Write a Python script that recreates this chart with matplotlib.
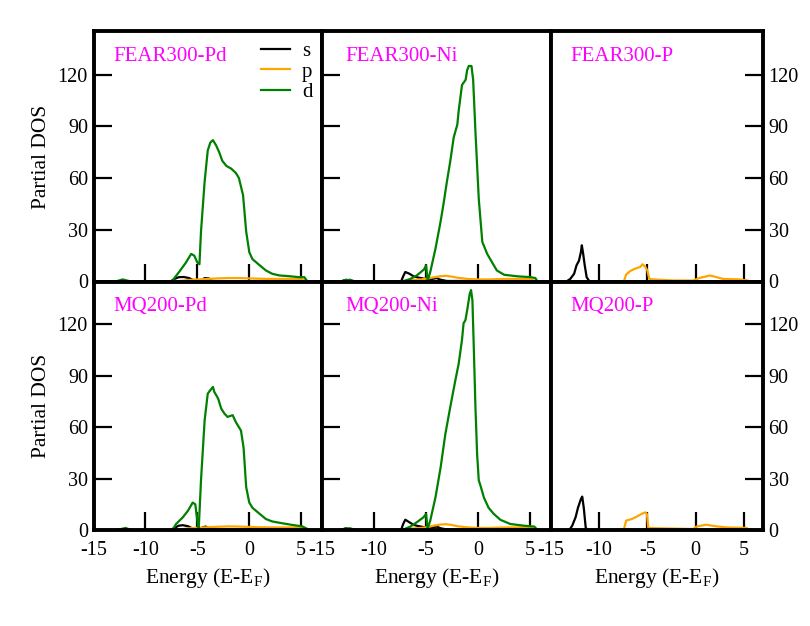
import matplotlib
matplotlib.use("Agg")
import matplotlib.pyplot as plt

plt.rcParams['font.family'] = ['Liberation Serif', 'DejaVu Serif']
plt.rcParams['mathtext.fontset'] = 'custom'
plt.rcParams['mathtext.rm'] = 'Liberation Serif'
plt.rcParams['axes.unicode_minus'] = False

# ---------------- data ----------------
orbitals = ['s', 'p', 'd']
xticks = [-15, -10, -5, 0, 5]
yticks = [0, 30, 60, 90, 120]
titles = ['FEAR300-Pd', 'FEAR300-Ni', 'FEAR300-P', 'MQ200-Pd', 'MQ200-Ni', 'MQ200-P']
colors = {'s': 'black', 'p': '#FFA500', 'd': '#008000'}

# FEAR300-Pd
f_pd_s_E = [-7.6, -7.2, -6.8, -6.3, -5.8, -5.4, -5.1, -4.7, -4.3, -3.9, -3.6, -3.0, 0.0, 5.6]
f_pd_s = [0, 1.5, 2.5, 2.6, 2.0, 0.8, 0.2, 0.3, 2.0, 1.8, 0.3, 0.2, 0.2, 0]
f_pd_p_E = [-7.0, -6.0, -5.0, -4.0, -3.0, -2.0, -1.0, 0.0, 1.0, 2.0, 3.0, 4.0, 5.0, 5.6]
f_pd_p = [0, 0.8, 1.2, 1.5, 1.8, 2.0, 2.0, 1.8, 1.6, 1.5, 1.5, 1.5, 1.4, 0]
f_pd_d_E = [-13.0, -12.7, -12.2, -11.6, -11.3, -7.5, -7.4, -6.7, -6.1, -5.6, -5.3, -5.0, -4.8,
            -4.65, -4.3, -4.0, -3.75, -3.5, -3.4, -3.2, -2.9, -2.6, -2.2, -1.75, -1.3, -1.0,
            -0.6, -0.3, 0.0, 0.3, 1.0, 1.6, 2.2, 2.9, 3.8, 4.8, 5.3, 5.6]
f_pd_d = [0, 0.3, 1.2, 0.3, 0, 0, 0.5, 6, 11, 16, 15, 11, 10,
          29, 58, 76, 80.6, 82, 81, 79, 75, 70, 67, 65.5, 63, 60,
          50, 29, 17, 13, 9.4, 6.4, 4.5, 3.5, 3.1, 2.5, 2.5, 0]

# FEAR300-Ni
f_ni_s_E = [-13.2, -12.7, -12.2, -7.4, -7.2, -7.0, -6.6, -6.2, -5.9, -5.5, -5.1, -4.8, -4.4,
            -4.0, -3.6, -3.0, 0.0, 3.0, 5.6]
f_ni_s = [0, 1.0, 0, 0, 3.0, 5.5, 4.5, 3.0, 2.5, 2.0, 1.5, 0.5, 1.5, 2.0, 1.0, 0.3, 0.3, 0.5, 0]
f_ni_p_E = [-13.0, -12.5, -12.0, -7.4, -6.5, -5.5, -4.8, -4.2, -3.6, -3.1, -2.5, -2.0, -1.0,
            0.0, 1.0, 2.0, 3.0, 4.0, 5.0, 5.6]
f_ni_p = [0, 0.8, 0, 0, 0.8, 1.2, 1.8, 2.5, 3.1, 3.3, 2.8, 2.2, 1.5, 1.2, 1.2, 1.4, 1.5, 1.5, 1.5, 0]
f_ni_d_E = [-13.2, -12.8, -12.3, -11.8, -7.3, -6.5, -5.9, -5.2, -5.0, -4.85, -4.6, -4.1, -3.6,
            -3.3, -3.0, -2.67, -2.35, -2.0, -1.87, -1.55, -1.2, -1.06, -0.9, -0.64, -0.48,
            -0.26, 0.06, 0.4, 0.87, 1.35, 1.8, 2.5, 3.8, 5.05, 5.5, 5.7]
f_ni_d = [0, 0.8, 1.0, 0, 0, 1.5, 3.5, 7, 9.4, 0.5, 5.5, 19, 35,
          46, 58, 70, 83.5, 91, 99, 114, 117, 122.5, 125, 125, 117,
          87, 48, 23, 16, 11, 6.4, 3.9, 3.0, 2.5, 2.0, 0]

# FEAR300-P
f_p_s_E = [-13.4, -13.0, -12.6, -12.35, -12.1, -11.9, -11.8, -11.66, -11.5, -11.3, -11.0,
           2.5, 3.0, 4.5, 5.5]
f_p_s = [0, 1.5, 4.5, 9.4, 12, 17, 21, 16, 9.4, 2.5, 0, 0, 0.5, 0.5, 0]
f_p_p_E = [-7.45, -7.2, -6.8, -6.3, -5.75, -5.5, -5.2, -5.0, -4.8, -4.4, -2.3, -0.24, 0.45,
           1.5, 2.2, 2.85, 4.6, 5.4, 5.6]
f_p_p = [0, 4, 6, 7.4, 8.4, 10, 8.4, 6.4, 1.5, 1.2, 0.6, 0.6, 2.1, 3.5, 2.5, 1.5, 1.2, 0.6, 0]
f_p_d_E = [-15.0, 7.0]
f_p_d = [0, 0]

# MQ200-Pd
m_pd_s_E = [-7.6, -7.2, -6.8, -6.4, -5.9, -5.5, -5.1, -4.8, -4.5, -4.2, -3.9, -3.6, -3.0, 0.0, 5.6]
m_pd_s = [0, 1.2, 2.5, 2.8, 2.2, 1.0, 0.2, 0.3, 1.5, 2.0, 1.2, 0.3, 0.2, 0.2, 0]
m_pd_p_E = [-7.0, -6.0, -5.0, -4.0, -3.0, -2.0, -1.0, 0.0, 1.0, 2.0, 3.0, 4.0, 5.0, 5.6]
m_pd_p = [0, 0.9, 1.3, 1.6, 1.9, 2.1, 2.0, 1.8, 1.6, 1.5, 1.5, 1.5, 1.4, 0]
m_pd_d_E = [-13.0, -12.4, -11.9, -11.4, -7.4, -7.05, -6.4, -5.9, -5.45, -5.2, -5.0, -4.87,
            -4.65, -4.3, -4.0, -3.75, -3.5, -3.37, -3.0, -2.7, -2.4, -2.1, -1.6, -1.3, -0.8,
            -0.55, -0.3, 0.0, 0.3, 1.0, 1.6, 2.2, 3.2, 4.2, 5.1, 5.6]
m_pd_d = [0, 0.5, 1.2, 0, 0, 3.5, 7.4, 11.3, 16, 15, 5.5, 0.6,
          29, 64, 79.6, 81.6, 83.5, 80.6, 76.7, 70.8, 68, 66, 67, 63, 58,
          48, 25, 16, 13, 9.4, 6.4, 5.0, 3.9, 2.9, 2.1, 0.6]

# MQ200-Ni
m_ni_s_E = [-13.2, -12.7, -12.2, -7.4, -7.2, -7.0, -6.6, -6.2, -5.9, -5.5, -5.1, -4.8, -4.4,
            -4.0, -3.6, -3.0, 0.0, 3.0, 5.6]
m_ni_s = [0, 1.0, 0, 0, 3.5, 6.0, 4.5, 3.0, 2.5, 2.0, 1.5, 0.5, 1.5, 2.0, 1.0, 0.3, 0.3, 0.5, 0]
m_ni_p_E = [-13.0, -12.5, -12.0, -7.4, -6.5, -5.5, -4.8, -4.2, -3.6, -3.1, -2.5, -2.0, -1.0,
            0.0, 1.0, 2.0, 3.0, 4.0, 5.0, 5.6]
m_ni_p = [0, 0.8, 0, 0, 0.8, 1.2, 1.8, 2.6, 3.2, 3.4, 2.9, 2.2, 1.5, 1.2, 1.2, 1.4, 1.5, 1.5, 1.5, 0]
m_ni_d_E = [-13.2, -12.8, -12.3, -11.8, -7.3, -6.5, -5.9, -5.25, -5.0, -4.86, -4.6, -4.1, -3.6,
            -3.15, -2.67, -2.2, -1.87, -1.55, -1.4, -1.22, -1.06, -0.8, -0.68, -0.55, -0.42,
            -0.26, -0.1, 0.06, 0.22, 0.55, 1.0, 1.5, 2.15, 3.1, 4.4, 5.4, 5.7]
m_ni_d = [0, 0.8, 1.0, 0, 0, 2.0, 4.5, 7.4, 9.4, 0.6, 5.5, 19, 36.7,
          56, 72, 87, 97, 111, 120.6, 122.5, 128, 138, 140, 134, 107,
          72, 44.5, 29, 26, 19, 13, 9.4, 5.9, 3.5, 2.5, 2.0, 0]

# MQ200-P
m_p_s_E = [-13.1, -12.8, -12.45, -12.2, -11.9, -11.76, -11.6, -11.4, -11.25, 2.5, 3.0, 4.5, 5.5]
m_p_s = [0, 2.5, 7.4, 13, 18, 19.5, 13, 1.5, 0, 0, 0.5, 0.5, 0]
m_p_p_E = [-7.45, -7.2, -6.6, -6.1, -5.6, -5.2, -5.05, -4.9, -3.7, -0.24, 0.1, 1.1, 2.2, 3.2,
           5.3, 5.6]
m_p_p = [0, 5.5, 6.4, 7.8, 9.4, 10.3, 9.4, 1.2, 1.0, 0.6, 2.0, 3.1, 2.1, 1.5, 1.2, 0]
m_p_d_E = [-15.0, 7.0]
m_p_d = [0, 0]

panels = [
    {'s': (f_pd_s_E, f_pd_s), 'p': (f_pd_p_E, f_pd_p), 'd': (f_pd_d_E, f_pd_d)},
    {'s': (f_ni_s_E, f_ni_s), 'p': (f_ni_p_E, f_ni_p), 'd': (f_ni_d_E, f_ni_d)},
    {'s': (f_p_s_E, f_p_s), 'p': (f_p_p_E, f_p_p), 'd': (f_p_d_E, f_p_d)},
    {'s': (m_pd_s_E, m_pd_s), 'p': (m_pd_p_E, m_pd_p), 'd': (m_pd_d_E, m_pd_d)},
    {'s': (m_ni_s_E, m_ni_s), 'p': (m_ni_p_E, m_ni_p), 'd': (m_ni_d_E, m_ni_d)},
    {'s': (m_p_s_E, m_p_s), 'p': (m_p_p_E, m_p_p), 'd': (m_p_d_E, m_p_d)},
]

# ---------------- layout ----------------
W, H = 810, 626
fig = plt.figure(figsize=(W / 100, H / 100), dpi=100)
col_px = [(93.5, 322), (322, 551), (551, 763)]
row_px = [(31.5, 281.5), (281.5, 530)]
title_x = [0.085, 0.10, 0.09]

for i, data in enumerate(panels):
    r, c = divmod(i, 3)
    x0, x1 = col_px[c]
    y0, y1 = row_px[r]
    ax = fig.add_axes([x0 / W, 1 - y1 / H, (x1 - x0) / W, (y1 - y0) / H])
    for orb in orbitals:
        E, v = data[orb]
        ax.plot(E, v, color=colors[orb], lw=1.6, label=orb, solid_joinstyle='round')
    ax.set_xlim(-15, 7)
    ax.set_ylim(0, 145)
    for sp in ax.spines.values():
        sp.set_linewidth(2.8)
        sp.set_zorder(5)
    ax.set_xticks(xticks)
    ax.set_xticklabels([str(t) for t in xticks])
    ax.set_yticks(yticks)
    ax.set_yticklabels([str(t) for t in yticks])
    ax.tick_params(axis='both', direction='in', length=13, width=1.6, labelsize=14.5,
                   color='black')
    ax.tick_params(axis='x', pad=8, top=False, labelbottom=(r == 1))
    if c == 0:
        ax.tick_params(axis='y', left=True, right=False, labelleft=True, pad=4)
        ax.set_ylabel('Partial DOS', fontsize=15.5, labelpad=5)
    elif c == 1:
        ax.tick_params(axis='y', left=True, right=False, labelleft=False)
    else:
        ax.tick_params(axis='y', left=False, right=True, labelleft=False,
                       labelright=True, pad=4)
    if r == 1:
        ax.set_xlabel(r'Energy (E-E$_{\mathrm{F}}$)', fontsize=15.5, labelpad=4)
    ax.text(title_x[c], 0.9, titles[i], transform=ax.transAxes, color='#FF00FF',
            fontsize=15, ha='left', va='center')
    if i == 0:
        ax.legend(loc='upper left', bbox_to_anchor=(0.735, 0.96), frameon=False,
                  fontsize=15, borderpad=0, borderaxespad=0, labelspacing=0.05,
                  handlelength=1.35, handletextpad=0.6)

fig.savefig('out.png', dpi=100)
